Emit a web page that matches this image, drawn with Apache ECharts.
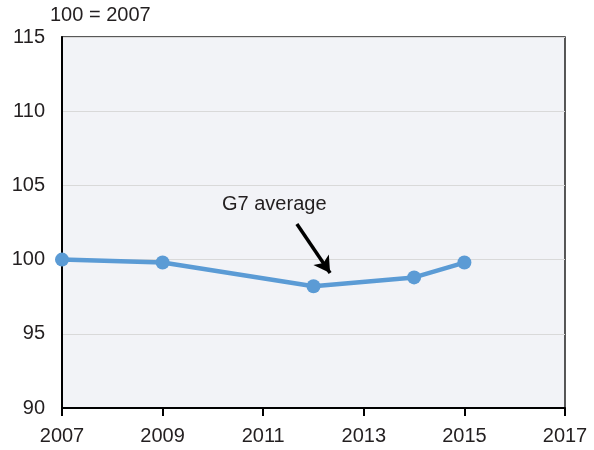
<!DOCTYPE html>
<html><head><meta charset="utf-8">
<script src="https://cdn.jsdelivr.net/npm/echarts@6/dist/echarts.min.js"></script>
<style>html,body{margin:0;padding:0;background:#fff}#c{width:594px;height:450px}</style>
</head><body><div id="c"></div>
<script>
const years = [2007, 2009, 2012, 2014, 2015];
const g7Average = [100, 99.8, 98.2, 98.8, 99.8];
const yTicks = [90, 95, 100, 105, 110, 115];
const xTicks = [2007, 2009, 2011, 2013, 2015, 2017];
const unitLabel = '100 = 2007';
const seriesLabel = 'G7 average';
const arrowFrom = [2011.67, 102.4];
const arrowTo = [2012.33, 99.1];

const font = '"Liberation Sans", Arial, sans-serif';
const chart = echarts.init(document.getElementById('c'), null, {renderer: 'canvas'});
chart.setOption({
  animation: false,
  grid: {left: 62, right: 29, top: 37, bottom: 42, show: true, backgroundColor: '#F2F3F7', borderColor: '#222', borderWidth: 1.5},
  xAxis: {
    type: 'value', min: xTicks[0], max: xTicks[xTicks.length-1], interval: 2,
    axisLine: {lineStyle: {color: '#000', width: 2}},
    axisTick: {show: true, length: 8, lineStyle: {color: '#000', width: 2}},
    axisLabel: {color: '#231F20', fontSize: 20, fontFamily: font, margin: 18, formatter: v => String(v)},
    splitLine: {show: false}
  },
  yAxis: {
    type: 'value', min: yTicks[0], max: yTicks[yTicks.length-1], interval: 5,
    axisLine: {show: true, lineStyle: {color: '#000', width: 2}},
    axisTick: {show: false},
    axisLabel: {color: '#231F20', fontSize: 20, fontFamily: font, margin: 17},
    splitLine: {show: true, lineStyle: {color: '#D9D9D9', width: 1}}
  },
  graphic: [
    {type: 'text', left: 50, top: 5, style: {text: unitLabel, fontSize: 20, fontFamily: font, fill: '#231F20'}},
    {type: 'text', left: 222, top: 194, style: {text: seriesLabel, fontSize: 20, fontFamily: font, fill: '#231F20'}}
  ],
  series: [{
    type: 'line',
    data: years.map((y, i) => [y, g7Average[i]]),
    symbol: 'circle', symbolSize: 14,
    lineStyle: {color: '#5B9BD5', width: 4.5},
    itemStyle: {color: '#5B9BD5'},
    markLine: {
      silent: true, symbol: ['none', 'arrow'], symbolSize: [14, 16],
      label: {show: false},
      lineStyle: {color: '#000', width: 3.5, type: 'solid'},
      data: [[{coord: arrowFrom}, {coord: arrowTo}]]
    }
  }]
});
</script></body></html>
